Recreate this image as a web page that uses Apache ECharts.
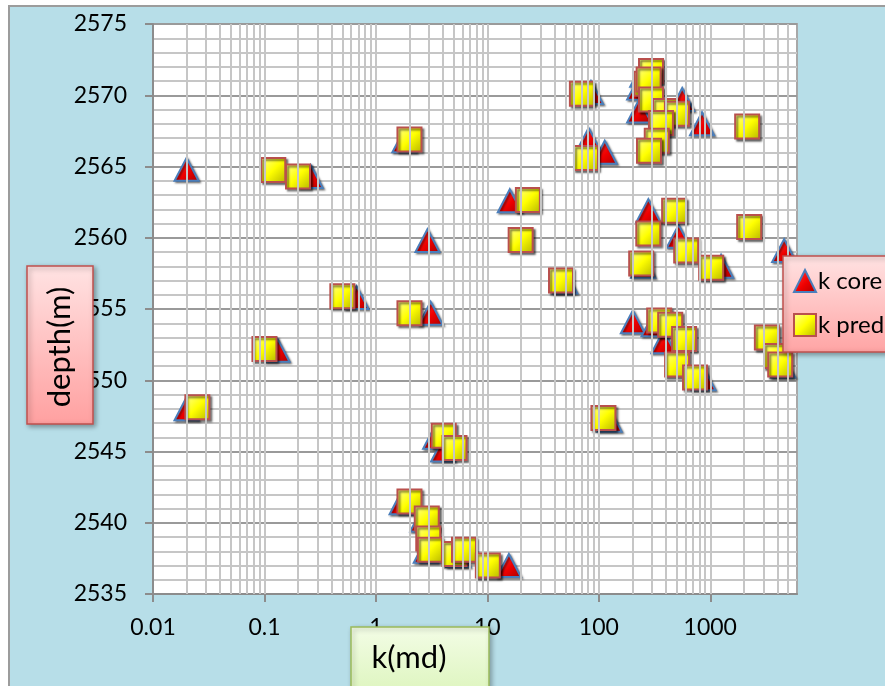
<!DOCTYPE html>
<html>
<head>
<meta charset="utf-8">
<script src="https://cdn.jsdelivr.net/npm/echarts@6/dist/echarts.min.js"></script>
<style>
html,body{margin:0;padding:0;background:#ffffff;}
#wrap{position:relative;width:885px;height:686px;overflow:hidden;}
#frame{position:absolute;left:8px;top:5px;width:900px;height:700px;background:#b7dee8;border:2px solid #9c9c9c;}
#chart{position:absolute;left:0;top:0;width:885px;height:686px;}
</style>
</head>
<body>
<div id="wrap"><div id="frame"></div><div id="chart"></div></div>
<script>
// ---- data ----
const kCore = [0.02, 0.26, 1.8, 85, 81, 113, 15.9, 2.9, 50, 0.67, 3.1, 0.131, 0.02, 3.4, 4.0, 1.7, 2.6, 2.8, 5.5, 15.6, 125,
  245, 230, 230, 560, 843, 278, 520, 4600, 250, 1250, 202, 380, 310, 870, 4500];
const depthCore = [2564.8, 2564.3, 2566.8, 2570.2, 2566.9, 2566.0, 2562.6, 2559.8, 2556.9, 2555.8, 2554.7, 2552.1, 2548.0, 2546.0, 2545.1, 2541.4, 2540.2, 2538.0, 2537.7, 2537.0, 2547.2,
  2571.4, 2570.5, 2568.9, 2569.7, 2568.0, 2561.9, 2560.1, 2559.1, 2558.0, 2558.0, 2554.1, 2552.7, 2553.9, 2550.1, 2551.0];

const kPred = [0.12, 0.2, 2.0, 70.5, 76.7, 23.1, 19.9, 45.8, 0.5, 2.0, 0.1, 0.025, 4.06, 5.07, 2.0, 2.86, 2.95, 3.05, 5.07, 6.17, 10.1, 110,
  294, 268, 280, 294, 393, 502, 361, 331, 282, 2143, 474, 278, 608, 2234, 240, 1019, 348, 437, 582, 504, 730, 3220, 3900, 4240];
const depthPred = [2564.75, 2564.3, 2566.9, 2570.1, 2565.6, 2562.65, 2559.85, 2557.0, 2555.9, 2554.7, 2552.2, 2548.1, 2546.1, 2545.25, 2541.5, 2540.3, 2538.9, 2538.1, 2537.8, 2538.1, 2537.0, 2547.35,
  2571.7, 2570.8, 2571.1, 2569.7, 2568.9, 2568.7, 2568.05, 2566.8, 2566.1, 2567.8, 2561.9, 2560.3, 2559.1, 2560.75, 2558.2, 2557.9, 2554.2, 2553.9, 2552.9, 2551.1, 2550.2, 2553.0, 2551.7, 2551.1];

const xTickLabels = [0.01, 0.1, 1, 10, 100, 1000];
const gridMultipliers = [1, 2, 3, 4, 5, 6, 7, 8, 9];
const xMin = 0.01, xMax = 6000;
const yMin = 2535, yMax = 2575, yStep = 5;

// ---- build ----
const FONT = 'Lato';
const coreData = kCore.map((k, i) => [k, depthCore[i]]);
const predData = kPred.map((k, i) => [k, depthPred[i]]);

const vLines = [];
xTickLabels.forEach(d => gridMultipliers.forEach(m => {
  const v = +(d * m).toPrecision(6);
  if (v > xMin && v < xMax) vLines.push({xAxis: v});
}));

const chart = echarts.init(document.getElementById('chart'), null, {renderer: 'canvas'});

const triFill = {type: 'linear', x: 0, y: 0, x2: 1, y2: 1, colorStops: [
  {offset: 0, color: '#ff4a4a'}, {offset: 0.55, color: '#f00000'}, {offset: 1, color: '#a80000'}]};
const sqFill = {type: 'linear', x: 0, y: 0, x2: 1, y2: 1, colorStops: [
  {offset: 0, color: '#ffff9a'}, {offset: 0.5, color: '#ffff00'}, {offset: 1, color: '#b4b400'}]};

chart.setOption({
  animation: false,
  backgroundColor: 'transparent',
  textStyle: {fontFamily: FONT},
  grid: {left: 153, right: 88, top: 24, bottom: 92, show: true, backgroundColor: '#ffffff',
    borderColor: '#a8a8a8', borderWidth: 2, containLabel: false},
  xAxis: {
    type: 'log', logBase: 10, min: xMin, max: xMax,
    axisLine: {show: true, onZero: false, lineStyle: {color: '#8c8c8c', width: 2}},
    axisTick: {show: true, length: 8, customValues: xTickLabels, lineStyle: {color: '#8c8c8c', width: 2}},
    axisLabel: {show: true, customValues: xTickLabels, margin: 22, fontSize: 23, color: '#000', fontFamily: FONT,
      formatter: v => String(+(+v).toPrecision(6))},
    splitLine: {show: false}, minorTick: {show: false}, minorSplitLine: {show: false}
  },
  yAxis: {
    type: 'value', min: yMin, max: yMax, interval: yStep,
    axisLine: {show: true, onZero: false, lineStyle: {color: '#8c8c8c', width: 2}},
    axisTick: {show: true, length: 8, lineStyle: {color: '#8c8c8c', width: 2}},
    axisLabel: {margin: 26, fontSize: 23, color: '#000', fontFamily: FONT, formatter: v => String(v)},
    splitLine: {show: true, lineStyle: {color: '#9a9a9a', width: 2}},
    minorTick: {show: false, splitNumber: 5},
    minorSplitLine: {show: true, lineStyle: {color: '#c6c6c6', width: 2}}
  },
  legend: {
    data: ['k core', 'k pred'], orient: 'vertical', left: 788, top: 264, z: 20,
    itemWidth: 22, itemHeight: 22, itemGap: 20,
    textStyle: {fontSize: 24, color: '#000', fontFamily: FONT, padding: [0, 0, 0, -3]},
    selectedMode: false
  },
  graphic: [
    {type: 'rect', z: 15, shape: {x: 783, y: 256, width: 130, height: 96},
      style: {fill: {type: 'linear', x: 0, y: 0, x2: 0, y2: 1, colorStops: [{offset: 0, color: '#ffe3e3'}, {offset: 1, color: '#ffa4a4'}]},
        stroke: '#c0504d', lineWidth: 1.5, shadowBlur: 5, shadowColor: 'rgba(0,0,0,0.35)', shadowOffsetX: 2, shadowOffsetY: 2}},
    {type: 'rect', z: 15, shape: {x: 27, y: 266, width: 66, height: 158},
      style: {fill: {type: 'linear', x: 0, y: 0, x2: 0, y2: 1, colorStops: [{offset: 0, color: '#ffe3e3'}, {offset: 1, color: '#ffa0a0'}]},
        stroke: '#c0504d', lineWidth: 1.5, shadowBlur: 5, shadowColor: 'rgba(0,0,0,0.35)', shadowOffsetX: 2, shadowOffsetY: 2}},
    {type: 'text', z: 16, x: 60, y: 347, rotation: Math.PI / 2,
      style: {text: 'depth(m)', font: '31px ' + FONT, fill: '#000', align: 'center', verticalAlign: 'middle'}},
    {type: 'rect', z: 15, shape: {x: 351, y: 627, width: 138, height: 80},
      style: {fill: {type: 'linear', x: 0, y: 0, x2: 0, y2: 1, colorStops: [{offset: 0, color: '#f3fde6'}, {offset: 1, color: '#d9f3b6'}]},
        stroke: '#9bbb59', lineWidth: 1.5, shadowBlur: 5, shadowColor: 'rgba(0,0,0,0.3)', shadowOffsetX: 2, shadowOffsetY: 2}},
    {type: 'text', z: 16, x: 409, y: 658,
      style: {text: 'k(md)', font: '31px ' + FONT, fill: '#000', align: 'center', verticalAlign: 'middle'}}
  ],
  series: [
    {name: 'grid', type: 'scatter', data: [], z: 1, silent: true,
      markLine: {silent: true, symbol: ['none', 'none'], label: {show: false}, animation: false,
        lineStyle: {type: 'solid', color: '#c6c6c6', width: 2}, emphasis: {disabled: true}, data: vLines}},
    {name: 'k core', type: 'scatter', z: 3, data: coreData, symbol: 'triangle', symbolSize: [24, 23],
      itemStyle: {color: triFill, borderColor: '#4a7ebb', borderWidth: 2, opacity: 1,
        shadowColor: 'rgba(0,0,0,0.45)', shadowBlur: 2, shadowOffsetX: 1.5, shadowOffsetY: 1.5},
      emphasis: {disabled: true}},
    {name: 'k pred', type: 'scatter', z: 4, data: predData, symbol: 'rect', symbolSize: 24,
      itemStyle: {color: sqFill, borderColor: '#b9504d', borderWidth: 2, opacity: 1,
        shadowColor: 'rgba(0,0,0,0.5)', shadowBlur: 2, shadowOffsetX: 2, shadowOffsetY: 2},
      emphasis: {disabled: true}}
  ]
});
</script>
</body>
</html>
